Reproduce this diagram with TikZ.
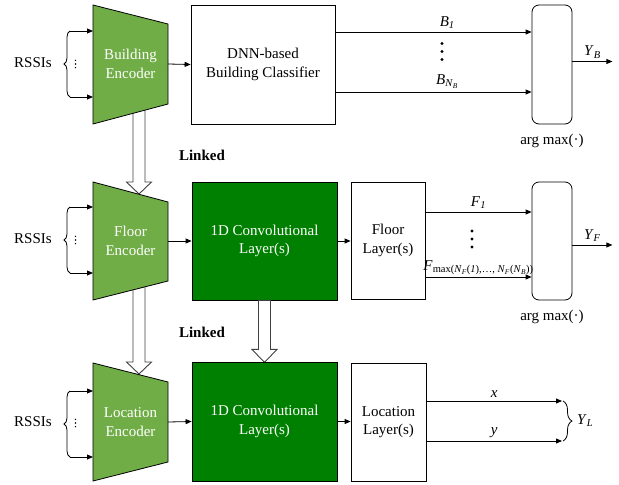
\documentclass[tikz,border=0pt]{standalone}
\usepackage{fontspec}
\setmainfont{LiberationSerif}[Extension=.ttf,UprightFont=*-Regular,BoldFont=*-Bold,ItalicFont=*-Italic,BoldItalicFont=*-BoldItalic]
\usetikzlibrary{positioning,arrows.meta,decorations.pathreplacing}
\definecolor{encgreen}{RGB}{112,173,71}
\definecolor{convgreen}{RGB}{0,128,0}
\begin{document}
\begin{tikzpicture}[x=1pt,y=-1pt,
  every node/.style={inner sep=0pt,font=\fontsize{15}{18.5}\selectfont},
  enc/.style={draw=black,fill=encgreen,line width=0.8pt},
  enctext/.style={text=white,align=center},
  box/.style={draw=black,line width=0.8pt,align=center},
  convbox/.style={box,fill=convgreen,text=white},
  argbox/.style={draw=black,line width=0.8pt,rounded corners=7pt,minimum width=40pt},
  arr/.style={line width=0.8pt,-{Triangle[length=6pt,width=5pt]}},
  hollow/.style={draw=black!75,fill=white,line width=0.9pt},
  lbrace/.style={decorate,decoration={brace,amplitude=6pt},line width=0.8pt},
  rbrace/.style={decorate,decoration={brace,amplitude=9pt},line width=0.8pt},
  linked/.style={font=\fontsize{15}{18}\selectfont\bfseries}]
\useasboundingbox (0,0) rectangle (619,485);
\coordinate (link1) at (139,105);
\coordinate (link2) at (139,285);
\draw[hollow] ([xshift=-6pt]link1) -- ++(0,77) -- ++(-6.5,0) -- ++(12.5,12) -- ++(12.5,-12) -- ++(-6.5,0) -- ++(0,-77) -- cycle;
\draw[hollow] ([xshift=-6pt]link2) -- ++(0,77) -- ++(-6.5,0) -- ++(12.5,12) -- ++(12.5,-12) -- ++(-6.5,0) -- ++(0,-77) -- cycle;
\filldraw[enc] (93,5) -- (168,24) -- (168,104) -- (93,124) -- cycle;
\node[enctext] (benc) at (130.5,64) {Building\\Encoder};
\coordinate (benc-out) at (168,64);
\coordinate (bin1) at (70,31);
\coordinate (bin2) at (70,97);
\draw[lbrace] (bin2) -- (bin1);
\draw[arr] (bin1) -- ++(23,0);
\draw[arr] (bin2) -- ++(23,0);
\node (brssi) at (33,63) {RSSIs};
\coordinate (bdots) at (75.5,64);
\fill (bdots) ++(0,-3.6) circle (0.8) (bdots) circle (0.8) (bdots) ++(0,3.6) circle (0.8);
\node[box,minimum width=144pt,minimum height=119pt] (dnn) at (263,64.5) {DNN-based\\Building Classifier};
\draw[arr] (benc-out) -- (dnn.west);
\node[argbox,minimum height=119pt] (argb) at (552,64.5) {};
\node[below=9pt of argb] (argbl) {arg max(·)};
\draw[arr] ([yshift=32.5pt]dnn.east) -- ([yshift=32.5pt]argb.west) node[pos=0.57,above=3pt] (b1) {\textit{B}\textsubscript{\textit{1}}};
\draw[arr] ([yshift=-27.5pt]dnn.east) -- ([yshift=-27.5pt]argb.west) node[pos=0.57,above=3pt] (bnb) {\textit{B}\textsubscript{\textit{N}\textsubscript{\textit{B}}}};
\coordinate (bvdots) at (442,51.5);
\fill (bvdots) ++(0,-8) circle (1.6) (bvdots) circle (1.6) (bvdots) ++(0,8) circle (1.6);
\draw[arr] ([yshift=3pt]argb.east) -- ++(40,0) node[midway,above=3pt] (yb) {\textit{Y}\textsubscript{\textit{B}}};
\node[linked] (linked1) at (202,155) {Linked};
\filldraw[enc] (93,182) -- (168,202) -- (168,281) -- (93,300) -- cycle;
\node[enctext] (fenc) at (130.5,241) {Floor\\Encoder};
\coordinate (fenc-out) at (168,241);
\coordinate (fin1) at (70,207);
\coordinate (fin2) at (70,273);
\draw[lbrace] (fin2) -- (fin1);
\draw[arr] (fin1) -- ++(23,0);
\draw[arr] (fin2) -- ++(23,0);
\node (frssi) at (33,239) {RSSIs};
\coordinate (fdots) at (75.5,240);
\fill (fdots) ++(0,-3.6) circle (0.8) (fdots) circle (0.8) (fdots) ++(0,3.6) circle (0.8);
\node[convbox,minimum width=145pt,minimum height=118pt] (fconv) at (264.5,241) {1D Convolutional\\Layer(s)};
\draw[arr] (fenc-out) -- (fconv.west);
\node[box,minimum width=74pt,minimum height=117pt] (fl) at (388,240.5) {Floor\\Layer(s)};
\draw[arr] (fconv.east) -- (fconv.east -| fl.west);
\node[argbox,minimum height=118pt] (argf) at (552,241) {};
\node[below=9pt of argf] (argfl) {arg max(·)};
\draw[arr] ([yshift=28.5pt]fl.east) -- ([yshift=28.5pt]fl.east -| argf.west) node[midway,above=3pt] (f1) {\textit{F}\textsubscript{\textit{1}}};
\draw[arr] ([yshift=-36.5pt]fl.east) -- ([yshift=-36.5pt]fl.east -| argf.west) node[midway,above=2pt] (fmax) {\textit{F}\textsubscript{max(\textit{N}\textsubscript{\textit{F}}(\textit{1}),…, \textit{N}\textsubscript{\textit{F}}(\textit{N}\textsubscript{\textit{B}}))}};
\coordinate (fvdots) at (472,239);
\fill (fvdots) ++(0,-8) circle (1.6) (fvdots) circle (1.6) (fvdots) ++(0,8) circle (1.6);
\draw[arr] ([yshift=-4pt]argf.east) -- ++(40,0) node[midway,above=3pt] (yf) {\textit{Y}\textsubscript{\textit{F}}};
\node[linked] (linked2) at (202,332) {Linked};
\draw[hollow] ([xshift=-6pt]fconv.south) -- ++(0,49) -- ++(-6.5,0) -- ++(12.5,13) -- ++(12.5,-13) -- ++(-6.5,0) -- ++(0,-49) -- cycle;
\filldraw[enc] (93,363) -- (168,382) -- (168,462) -- (93,481) -- cycle;
\node[enctext] (lenc) at (130.5,422) {Location\\Encoder};
\coordinate (lenc-out) at (168,422);
\coordinate (lin1) at (70,391);
\coordinate (lin2) at (70,457);
\draw[lbrace] (lin2) -- (lin1);
\draw[arr] (lin1) -- ++(23,0);
\draw[arr] (lin2) -- ++(23,0);
\node (lrssi) at (33,422) {RSSIs};
\coordinate (ldots) at (75.5,423);
\fill (ldots) ++(0,-3.6) circle (0.8) (ldots) circle (0.8) (ldots) ++(0,3.6) circle (0.8);
\node[convbox,minimum width=145pt,minimum height=119pt] (lconv) at (264.5,421.5) {1D Convolutional\\Layer(s)};
\draw[arr] (lenc-out) -- (lconv.west);
\node[box,minimum width=75pt,minimum height=118pt] (ll) at (388.5,422) {Location\\Layer(s)};
\draw[arr] (lconv.east) -- (lconv.east -| ll.west);
\coordinate (yl1) at (562,401);
\coordinate (yl2) at (562,441);
\coordinate (yltip) at (574,421);
\draw[arr] ([yshift=21pt]ll.east) -- (yl1) node[midway,above=3pt] (xl) {\textit{x}};
\draw[arr] ([yshift=-19pt]ll.east) -- (yl2) node[midway,above=3pt] (ylab) {\textit{y}};
\draw[rbrace] ([xshift=1pt]yl1) -- ([xshift=1pt]yl2);
\node[right=3pt of yltip] (yl) {\textit{Y}\textsubscript{\textit{L}}};
\end{tikzpicture}
\end{document}
